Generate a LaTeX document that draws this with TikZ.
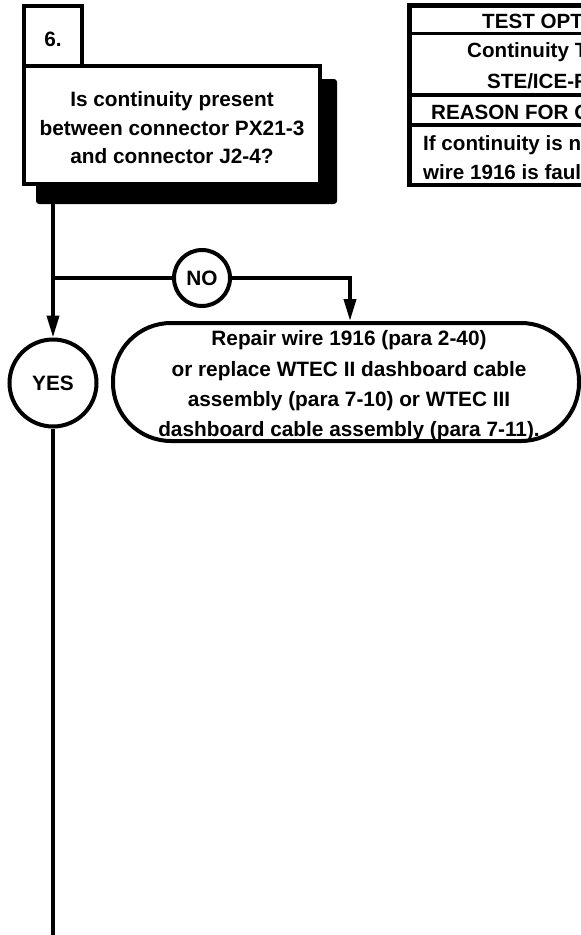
\documentclass[tikz,border=0pt]{standalone}
\usepackage{fontspec}
\setmainfont{Liberation Sans}
\usetikzlibrary{arrows.meta}
\begin{document}
\begin{tikzpicture}[x=1pt,y=-1pt,
  every node/.style={font=\bfseries\fontsize{20.8}{28.5}\selectfont},
  conn/.style={line width=3.8pt},
  arr/.style={conn,-{Triangle[length=22pt,width=12pt]}},
  boxline/.style={draw,line width=4pt},
  txt/.style={align=center,inner sep=0pt},
  tabtext/.style={anchor=base west,inner sep=0pt,font=\bfseries\fontsize{20.6}{24}\selectfont},
  tabouter/.style={line width=4.6pt},
  tabinner/.style={line width=3.4pt}
]
\useasboundingbox (0,0) rectangle (581,935);
\clip (0,0) rectangle (581,935);

% ---- table (top right, cut by the page edge)
\draw[tabinner] (409.5,33.5) -- (600,33.5);
\draw[tabinner] (409.5,95) -- (600,95);
\draw[tabinner] (409.5,125) -- (600,125);
\draw[tabouter] (600,5.5) -- (409.5,5.5) -- (409.5,185) -- (600,185);
\node[tabtext] (t1) at (482,28) {TEST OPTIONS};
\node[tabtext] (t2) at (467,57.5) {Continuity Test};
\node[tabtext] (t3) at (487,88.5) {STE/ICE-R};
\node[tabtext] (t4) at (431,119.5) {REASON FOR QUESTION};
\node[tabtext] (t5) at (423,150.5) {If continuity is not present,};
\node[tabtext] (t6) at (423,179.5) {wire 1916 is faulty.};

% ---- step number box
\node[boxline, fill=white, minimum width=58pt, minimum height=59.5pt, inner sep=0pt] (n) at (53,35.75) {};
\node[anchor=base, inner sep=0pt] (nt) at (53,46) {6.};

% ---- question box with shadow
\fill[rounded corners=3pt] (36,79) rectangle (337,204);
\node[boxline, fill=white, minimum width=296pt, minimum height=118.5pt, inner sep=0pt] (q) at (172,124.75) {};
\node[txt] (qt) at (172,128) {Is continuity present\\between connector PX21-3\\and connector J2-4?};
\coordinate (qs) at (53,204);

% ---- answers
\node[circle, boxline, fill=white, minimum size=56pt, inner sep=0pt] (no) at (202,278) {NO};
\node[circle, boxline, fill=white, minimum size=87pt, inner sep=0pt] (yes) at (53,383) {YES};

% ---- action box
\node[boxline, fill=white, rounded corners=58pt, minimum width=466pt, minimum height=118pt, inner sep=0pt] (r) at (346,382) {};
\node[txt, font=\bfseries\fontsize{20.8}{30.3}\selectfont] (rt) at (349,386) {Repair wire 1916 (para 2-40)\\or replace WTEC II dashboard cable\\assembly (para 7-10) or WTEC III\\dashboard cable assembly (para 7-11).};

% ---- connectors
\coordinate (jn) at (53,278);
\coordinate (nr) at (350,278);
\coordinate (bot) at (53,935);
\draw[arr] (qs) -- (yes.north);
\draw[conn] (jn) -- (no.west);
\draw[arr] (no.east) -- (nr) -- (nr |- r.north);
\draw[conn] (yes.south) -- (bot);
\end{tikzpicture}
\end{document}
